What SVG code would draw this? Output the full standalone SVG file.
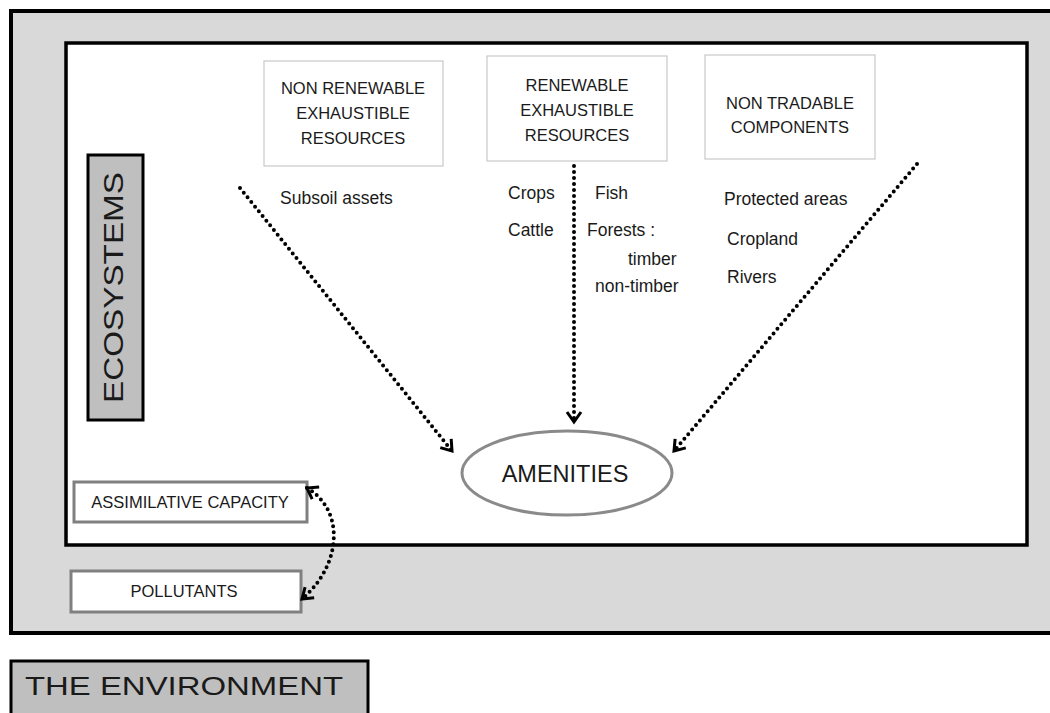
<svg xmlns="http://www.w3.org/2000/svg" width="1050" height="713" viewBox="0 0 1050 713">
<style>
.t{font-family:"Liberation Sans",Arial,sans-serif;fill:#1a1a1a}
.hdr{font-size:16.5px;text-anchor:middle}
.lbl{font-size:17.5px}
.res{fill:#fff;stroke:#c8c8c8;stroke-width:1.2}
.gbox{fill:#fff;stroke:#808080;stroke-width:3}
.dot{fill:none;stroke:#000;stroke-width:4;stroke-linecap:round;stroke-dasharray:0 6}
</style>
<defs>
<marker id="ah" viewBox="-12 -9 15 18" refX="0" refY="0" markerWidth="15" markerHeight="18" markerUnits="userSpaceOnUse" orient="auto-start-reverse">
<path d="M-10,-7 L0,0 L-10,7" fill="none" stroke="#000" stroke-width="3" stroke-linejoin="miter"/>
</marker>
</defs>
<g id="environment">
<rect x="11" y="11" width="1045" height="622" fill="#d9d9d9" stroke="#000" stroke-width="4"/>
</g>
<g id="ecosystems-area">
<rect x="66" y="43" width="961" height="502" fill="#fff" stroke="#000" stroke-width="3.5"/>
</g>
<g id="ecosystems-label">
<rect x="88" y="155" width="55" height="265" fill="#bfbfbf" stroke="#000" stroke-width="3"/>
<text class="t" transform="translate(123,403) rotate(-90)" font-size="28" textLength="231" lengthAdjust="spacingAndGlyphs">ECOSYSTEMS</text>
</g>
<g id="non-renewable">
<rect class="res" x="264" y="61" width="179" height="105"/>
<text class="t hdr" x="353" y="94">NON RENEWABLE</text>
<text class="t hdr" x="353" y="119">EXHAUSTIBLE</text>
<text class="t hdr" x="353" y="144">RESOURCES</text>
<text class="t lbl" x="280" y="204">Subsoil assets</text>
</g>
<g id="renewable">
<rect class="res" x="487" y="56" width="180" height="105"/>
<text class="t hdr" x="577" y="91">RENEWABLE</text>
<text class="t hdr" x="577" y="116">EXHAUSTIBLE</text>
<text class="t hdr" x="577" y="141">RESOURCES</text>
<text class="t lbl" x="508" y="199">Crops</text>
<text class="t lbl" x="508" y="236">Cattle</text>
<text class="t lbl" x="595" y="199">Fish</text>
<text class="t lbl" x="587" y="236">Forests :</text>
<text class="t lbl" x="628" y="265">timber</text>
<text class="t lbl" x="595" y="292">non-timber</text>
</g>
<g id="non-tradable">
<rect class="res" x="705" y="55" width="170" height="104"/>
<text class="t hdr" x="790" y="109">NON TRADABLE</text>
<text class="t hdr" x="790" y="133">COMPONENTS</text>
<text class="t lbl" x="724" y="205">Protected areas</text>
<text class="t lbl" x="727" y="245">Cropland</text>
<text class="t lbl" x="727" y="283">Rivers</text>
</g>
<g id="amenities">
<ellipse cx="567" cy="473" rx="105" ry="42" fill="#fff" stroke="#8a8a8a" stroke-width="3"/>
<text class="t" x="565" y="482" font-size="23.5" text-anchor="middle">AMENITIES</text>
</g>
<g id="assimilative-capacity">
<rect class="gbox" x="74" y="482" width="233" height="40"/>
<text class="t" x="190" y="508" font-size="16.5" text-anchor="middle">ASSIMILATIVE CAPACITY</text>
</g>
<g id="pollutants">
<rect class="gbox" x="71" y="571" width="230" height="41"/>
<text class="t" x="184" y="597" font-size="16.5" text-anchor="middle">POLLUTANTS</text>
</g>
<g id="environment-label">
<rect x="11" y="661" width="357" height="60" fill="#bfbfbf" stroke="#000" stroke-width="3"/>
<text class="t" x="25" y="695" font-size="26" textLength="318" lengthAdjust="spacingAndGlyphs">THE ENVIRONMENT</text>
</g>
<g id="connectors">
<path class="dot" d="M240,188 L452,451" marker-end="url(#ah)"/>
<path class="dot" d="M574,166 L574,422" marker-end="url(#ah)"/>
<path class="dot" d="M917,164 L674,451" marker-end="url(#ah)"/>
<path class="dot" d="M307,488 C345,510 342,565 302,599" marker-start="url(#ah)" marker-end="url(#ah)"/>
</g>
</svg>
